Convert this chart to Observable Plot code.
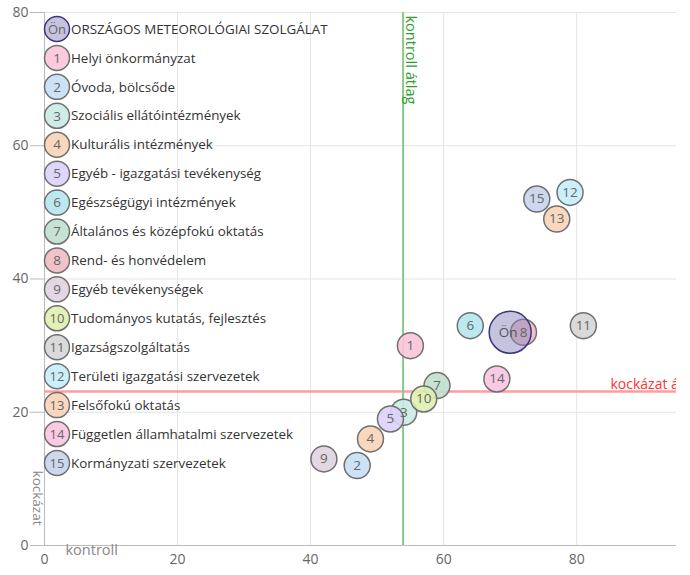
<!DOCTYPE html>
<html><head><meta charset="utf-8">
<script src="https://cdn.jsdelivr.net/npm/d3@7"></script>
<script src="https://cdn.jsdelivr.net/npm/@observablehq/plot@0.6"></script>
<style>
body{margin:0;background:#fff;font-family:"Open Sans",sans-serif;}
#wrap{position:relative;width:690px;height:575px;}
#legend{position:absolute;left:0;top:0;pointer-events:none;}
</style></head><body><div id="wrap"></div>
<script>
const codes = ["Ön","1","2","3","4","5","6","7","8","9","10","11","12","13","14","15"];
const names = [
  "ORSZÁGOS METEOROLÓGIAI SZOLGÁLAT",
  "Helyi önkormányzat",
  "Óvoda, bölcsőde",
  "Szociális ellátóintézmények",
  "Kulturális intézmények",
  "Egyéb - igazgatási tevékenység",
  "Egészségügyi intézmények",
  "Általános és középfokú oktatás",
  "Rend- és honvédelem",
  "Egyéb tevékenységek",
  "Tudományos kutatás, fejlesztés",
  "Igazságszolgáltatás",
  "Területi igazgatási szervezetek",
  "Felsőfokú oktatás",
  "Független államhatalmi szervezetek",
  "Kormányzati szervezetek"
];
const kontroll = [70, 55, 47, 54, 49, 52, 64, 59, 72, 42, 57, 81, 79, 77, 68, 74];
const kockazat = [32, 30, 12, 20, 16, 19, 33, 24, 32, 13, 22, 33, 53, 49, 25, 52];
const kontrollAtlag = [53.9];
const kockazatAtlag = [23.1];
const xTicks = [0, 20, 40, 60, 80];
const yTicks = [0, 20, 40, 60, 80];

// styles
const fills = ["#8c87bd","#fbc4d9","#c5dff6","#c8ebe3","#fad3b8","#dcd1fa","#b5e6ee","#c0dfce",
               "#f0bcc2","#e0d3e0","#def0b0","#d6d6d6","#c6eefb","#fad3b8","#f8c4e0","#c8d3ec"];

const data = codes.map((c, i) => ({code: c, name: names[i], x: kontroll[i], y: kockazat[i], fill: fills[i]}));
const others = data.filter(d => d.code !== "Ön");
const me = data.filter(d => d.code === "Ön");

const plot = Plot.plot({
  width: 690, height: 575,
  marginLeft: 44, marginRight: 14, marginTop: 12, marginBottom: 30,
  style: {fontFamily: "Open Sans, sans-serif", background: "#fff"},
  x: {domain: [0, 95], label: null},
  y: {domain: [0, 80], label: null},
  marks: [
    Plot.gridX(xTicks, {stroke: "#e4e4e4", strokeOpacity: 1}),
    Plot.gridY(yTicks, {stroke: "#e4e4e4", strokeOpacity: 1}),
    Plot.axisX(xTicks, {tickSize: 0, tickPadding: 9, fontSize: 14, fill: "#666"}),
    Plot.axisY(yTicks, {tickSize: 14, tickPadding: 2, fontSize: 14, fill: "#666", stroke: "#bbb"}),
    Plot.ruleX([0], {stroke: "#bbb"}),
    Plot.ruleY([0], {stroke: "#bbb"}),
    Plot.ruleY(kockazatAtlag, {stroke: "#ff9c9c", strokeWidth: 2.5}),
    Plot.ruleX(kontrollAtlag, {stroke: "#8bc98b", strokeWidth: 2}),
    Plot.text(kockazatAtlag, {y: d => d, frameAnchor: "right", text: () => "kockázat átlag",
      textAnchor: "start", lineAnchor: "bottom", dx: -66, dy: -3, fill: "#ff3333", fontSize: 14, clip: true}),
    Plot.text(kontrollAtlag, {x: d => d, frameAnchor: "top", text: () => "kontroll átlag",
      rotate: 90, textAnchor: "start", lineAnchor: "bottom", dx: 3, dy: 3, fill: "#2e9c2e", fontSize: 14.5}),
    Plot.text(["kockázat"], {frameAnchor: "bottom-left", rotate: 90, textAnchor: "end", lineAnchor: "bottom",
      dx: -12, dy: -20, fill: "#888", fontSize: 13.5}),
    Plot.text(["kontroll"], {frameAnchor: "bottom-left", textAnchor: "start", lineAnchor: "top",
      dx: 21, dy: -1, fill: "#888", fontSize: 14.5}),
    Plot.dot(others, {x: "x", y: "y", r: 13, fill: "fill", fillOpacity: 0.9, stroke: "#707070", strokeWidth: 1.5}),
    Plot.dot(me, {x: "x", y: "y", r: 21, fill: "fill", fillOpacity: 0.5, stroke: "#3b347f", strokeWidth: 1.5}),
    Plot.text(others, {x: "x", y: "y", text: "code", fill: "#666", fontSize: 13.5}),
    Plot.text(me, {x: "x", y: "y", text: "code", fill: "#555", fontSize: 13.5, dx: -2})
  ]
});

const wrap = document.getElementById("wrap");
wrap.appendChild(plot);

// legend
const lg = d3.select(wrap).append("svg").attr("id", "legend").attr("width", 690).attr("height", 575)
  .style("font-family", "Open Sans, sans-serif");
const items = lg.selectAll("g").data(data).join("g")
  .attr("transform", (d, i) => `translate(57,${29 + i * 28.93})`);
items.append("circle").attr("r", 12.5)
  .attr("fill", d => d.fill)
  .attr("fill-opacity", d => d.code === "Ön" ? 0.5 : 0.9)
  .attr("stroke", d => d.code === "Ön" ? "#3b347f" : "#707070")
  .attr("stroke-width", 1.5);
items.append("text").attr("text-anchor", "middle").attr("dy", "0.35em")
  .attr("font-size", d => d.code.length > 1 ? 13 : 13.5).attr("fill", "#666")
  .text(d => d.code);
items.append("text").attr("x", 14).attr("dy", "0.35em").attr("font-size", 13.4).attr("fill", "#333")
  .text(d => d.name);
</script></body></html>
